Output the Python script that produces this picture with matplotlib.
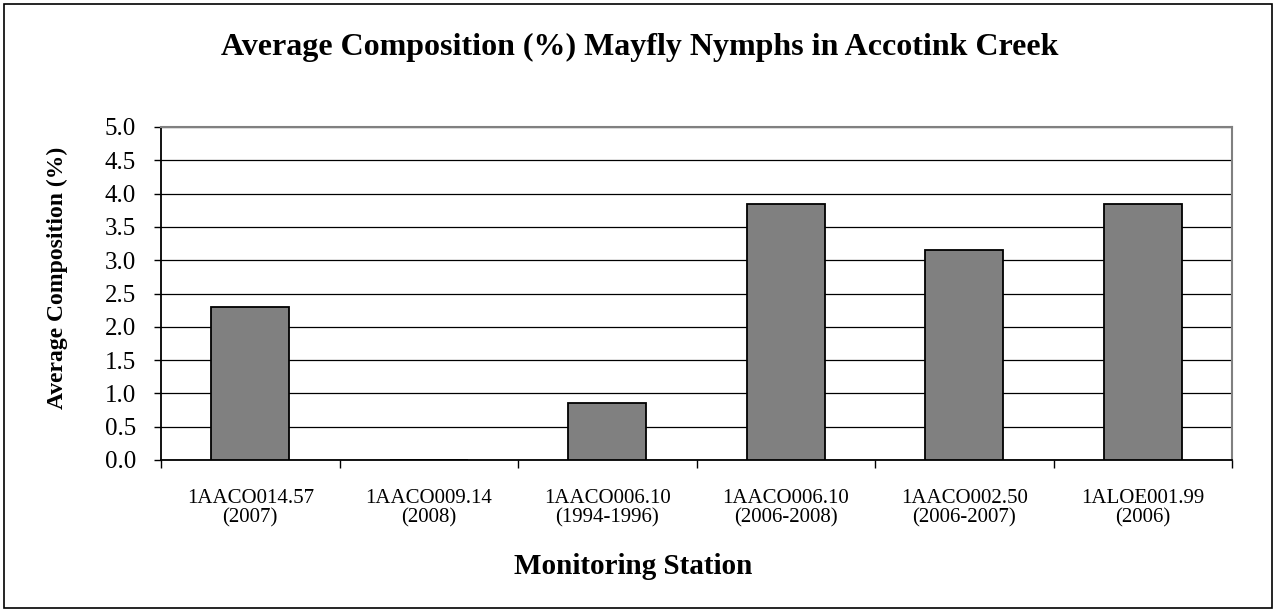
import matplotlib
matplotlib.use("Agg")
import matplotlib.pyplot as plt
from matplotlib.patches import Rectangle
import numpy as np

categories = ["1AACO014.57\n(2007)", "1AACO009.14\n(2008)", "1AACO006.10\n(1994-1996)",
              "1AACO006.10\n(2006-2008)", "1AACO002.50\n(2006-2007)", "1ALOE001.99\n(2006)"]
values = [2.3, 0.0, 0.85, 3.85, 3.15, 3.85]
yticks = [0.0, 0.5, 1.0, 1.5, 2.0, 2.5, 3.0, 3.5, 4.0, 4.5, 5.0]

plt.rcParams['font.family'] = ['Liberation Serif', 'DejaVu Serif']

fig = plt.figure(figsize=(12.76, 6.12), dpi=100)
W, H = 1276, 612
left, right, top, bottom = 161, 1232, 127, 460
ax = fig.add_axes([left / W, 1 - bottom / H, (right - left) / W, (bottom - top) / H])

x = np.arange(len(categories))
ax.bar(x, values, width=0.435, color="#808080", edgecolor="black", linewidth=1.3, zorder=3)
ax.set_xlim(-0.5, len(categories) - 0.5)
ax.set_ylim(0, 5)
ax.set_yticks(yticks)
ax.set_yticklabels([f"{v:.1f}" for v in yticks], fontsize=18)
ax.yaxis.grid(True, color="black", linewidth=0.9, zorder=0)
ax.set_axisbelow(True)

ax.set_xticks(x)
ax.set_xticklabels(categories, fontsize=15)
for t in ax.get_xticklabels():
    t.set_linespacing(0.98)
ax.tick_params(axis="x", length=0, pad=21)
ax.set_xticks(np.arange(-0.5, len(categories)), minor=True)
ax.tick_params(axis="x", which="minor", length=6, width=1, color="black", direction="out")
ax.tick_params(axis="y", length=5, width=1, direction="out", pad=13)

for s in ["top", "right"]:
    ax.spines[s].set_color("#808080")
    ax.spines[s].set_linewidth(1.5)
for s in ["left", "bottom"]:
    ax.spines[s].set_color("black")
    ax.spines[s].set_linewidth(1.3)

fig.text(57 / W, 1 - 278 / H, "Average Composition (%)", rotation=90,
         ha="center", va="center", fontsize=17, fontweight="bold")
fig.text(633 / W, 1 - 567 / H, "Monitoring Station",
         ha="center", va="center", fontsize=21, fontweight="bold")
fig.text(640 / W, 1 - 47 / H, "Average Composition (%) Mayfly Nymphs in Accotink Creek",
         ha="center", va="center", fontsize=23, fontweight="bold")

fig.patches.append(Rectangle((4 / W, 4 / H), 1 - 8 / W, 1 - 8 / H, transform=fig.transFigure,
                             fill=False, edgecolor="black", linewidth=1.2))

fig.savefig("out.png", dpi=100)
